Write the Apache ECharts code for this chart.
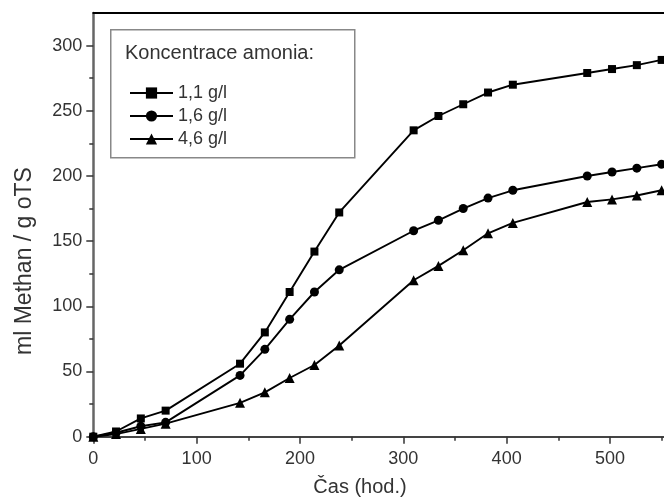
<!DOCTYPE html>
<html><head><meta charset="utf-8">
<script src="https://cdn.jsdelivr.net/npm/echarts@6/dist/echarts.min.js"></script>
<style>html,body{margin:0;padding:0;background:#fff}#c{width:664px;height:497px}</style>
</head><body><div id="c"></div>
<script>
// Time in hours
const hours = [0, 22, 46, 70, 142, 166, 190, 214, 238, 310, 334, 358, 382, 406, 478, 502, 526, 550];
// ml Methan / g oTS for each ammonia concentration
const conc11 = [0, 4, 14, 20, 56, 80, 111, 142, 172, 235, 246, 255, 264, 270, 279, 282, 285, 289];
const conc16 = [0, 3, 8, 11, 47, 67, 90, 111, 128, 158, 166, 175, 183, 189, 200, 203, 206, 209];
const conc46 = [0, 2, 6, 10, 26, 34, 45, 55, 70, 120, 131, 143, 156, 164, 180, 182, 185, 189];
const seriesNames = ['1,1 g/l', '1,6 g/l', '4,6 g/l'];
const legendTitle = 'Koncentrace amonia:';
const xTitle = 'Čas (hod.)';
const yTitle = 'ml Methan / g oTS';
const yMajorTicks = [0, 50, 100, 150, 200, 250, 300];
const yMinorTicks = [25, 75, 125, 175, 225, 275];

const FONT = '"Liberation Sans", Arial, sans-serif';
const pair = arr => hours.map((h, i) => [h, arr[i]]);

const chart = echarts.init(document.getElementById('c'), null, {renderer: 'canvas'});
const mk = (name, data, symbol, size) => ({
  name, type: 'line', data: pair(data), symbol, symbolSize: size,
  itemStyle: {color: '#000'}, lineStyle: {color: '#000', width: 1.9},
  xAxisIndex: 0, yAxisIndex: 0, clip: false, z: 3
});

chart.setOption({
  animation: false,
  backgroundColor: '#fff',
  textStyle: {fontFamily: FONT},
  grid: {left: 93.3, top: 13, width: 620, height: 423.7, containLabel: false, outerBoundsMode: 'none'},
  title: {
    text: legendTitle, left: 125, top: 43, padding: 0,
    textStyle: {fontSize: 20, fontWeight: 'normal', color: '#333', fontFamily: FONT}
  },
  legend: {
    orient: 'vertical', left: 129, top: 84, padding: 0,
    itemWidth: 43, itemHeight: 14, itemGap: 5, selectedMode: false,
    data: seriesNames,
    textStyle: {fontSize: 18, color: '#333', fontFamily: FONT}
  },
  xAxis: [{
    type: 'value', min: 0, max: 600, interval: 100, position: 'bottom',
    axisLine: {show: true, onZero: false, lineStyle: {color: '#444', width: 2}},
    axisTick: {show: true, length: 7, lineStyle: {color: '#333', width: 1.5}},
    minorTick: {show: true, splitNumber: 2, length: 4, lineStyle: {color: '#333', width: 1.5}},
    axisLabel: {margin: 13, fontSize: 18, color: '#333', fontFamily: FONT},
    splitLine: {show: false}
  }, {
    type: 'value', min: 0, max: 600, position: 'top',
    axisLine: {show: true, onZero: false, lineStyle: {color: '#000', width: 2}},
    axisTick: {show: false}, axisLabel: {show: false}, splitLine: {show: false}
  }],
  yAxis: [{
    type: 'value', min: 0, max: 325, position: 'left',
    axisLine: {show: true, onZero: false, lineStyle: {color: '#666', width: 2.5}},
    axisTick: {show: true, length: 7, customValues: yMajorTicks, lineStyle: {color: '#333', width: 1.5}},
    axisLabel: {customValues: yMajorTicks, margin: 11, fontSize: 18, color: '#333', fontFamily: FONT},
    splitLine: {show: false}
  }, {
    type: 'value', min: 0, max: 325, position: 'left', offset: 0,
    axisLine: {show: false},
    axisTick: {show: true, length: 4, customValues: yMinorTicks, lineStyle: {color: '#333', width: 1.5}},
    axisLabel: {show: false}, splitLine: {show: false}
  }],
  graphic: [
    {type: 'rect', left: 110, top: 29, z: 0,
     shape: {width: 244, height: 128},
     style: {fill: '#fff', stroke: '#888', lineWidth: 1.5}},
    {type: 'text', x: 25, y: 261, rotation: Math.PI / 2,
     style: {text: yTitle, fontSize: 23, fontFamily: FONT, fill: '#333', align: 'center', verticalAlign: 'middle'}},
    {type: 'text', x: 360, y: 487,
     style: {text: xTitle, fontSize: 20, fontFamily: FONT, fill: '#333', align: 'center', verticalAlign: 'middle'}}
  ],
  series: [
    mk(seriesNames[0], conc11, 'rect', 8),
    mk(seriesNames[1], conc16, 'circle', 9),
    mk(seriesNames[2], conc46, 'triangle', 10)
  ]
});
</script></body></html>
